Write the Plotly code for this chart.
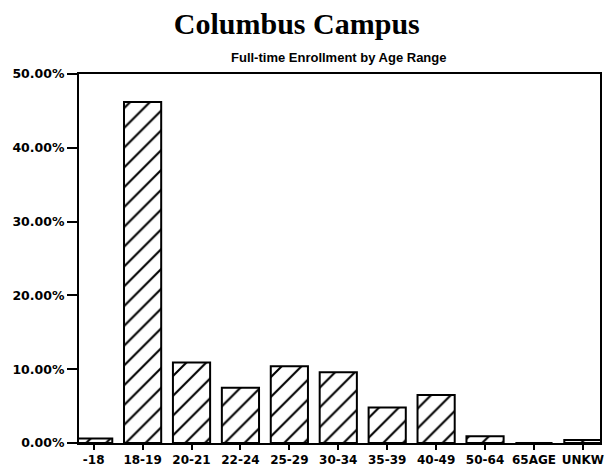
import plotly.graph_objects as go

categories = ["-18", "18-19", "20-21", "22-24", "25-29", "30-34", "35-39", "40-49", "50-64", "65AGE", "UNKW"]
enrollment_pct = [0.6, 46.2, 10.9, 7.5, 10.4, 9.6, 4.8, 6.5, 0.9, 0.0, 0.4]
y_ticks = [0, 10, 20, 30, 40, 50]
y_tick_labels = ["0.00%", "10.00%", "20.00%", "30.00%", "40.00%", "50.00%"]

fig = go.Figure(
    go.Bar(
        x=list(range(len(categories))),
        y=enrollment_pct,
        width=0.76,
        marker=dict(
            color="white",
            line=dict(color="black", width=2),
            pattern=dict(shape="/", fgcolor="black", bgcolor="white", fgopacity=1,
                         size=14, solidity=0.15, fillmode="replace"),
        ),
    )
)

fig.update_layout(
    width=608,
    height=468,
    margin=dict(l=71, r=16, t=66, b=33),
    paper_bgcolor="white",
    plot_bgcolor="white",
    showlegend=False,
    font=dict(family="DejaVu Sans", color="black"),
    title=dict(
        text="<b>Columbus Campus</b>",
        font=dict(family="Liberation Serif", size=30, color="black"),
        x=0.475, xanchor="center", y=0.966, yanchor="middle",
    ),
    annotations=[
        dict(
            text="Full-time Enrollment by Age Range",
            xref="paper", yref="paper", x=0.499, y=1.046,
            xanchor="center", yanchor="middle", showarrow=False,
            font=dict(family="Liberation Sans", size=13, color="black", weight="bold"),
        )
    ],
)

fig.update_xaxes(
    range=[-0.30, 10.35],
    tickmode="array",
    tickvals=list(range(len(categories))),
    ticktext=categories,
    ticks="outside", ticklen=5, tickwidth=2, tickcolor="black",
    showline=True, linecolor="black", linewidth=2, mirror=True,
    showgrid=False, zeroline=False, automargin=False,
    tickfont=dict(family="DejaVu Sans", size=12, color="black", weight="bold"),
)
fig.update_yaxes(
    range=[0, 50],
    tickmode="array",
    tickvals=y_ticks,
    ticktext=y_tick_labels,
    ticks="outside", ticklen=10, tickwidth=2, tickcolor="black",
    showline=True, linecolor="black", linewidth=2, mirror=True,
    showgrid=False, zeroline=False, automargin=False,
    tickfont=dict(family="DejaVu Sans", size=12.5, color="black", weight="bold"),
)

fig.write_html("out.html")
